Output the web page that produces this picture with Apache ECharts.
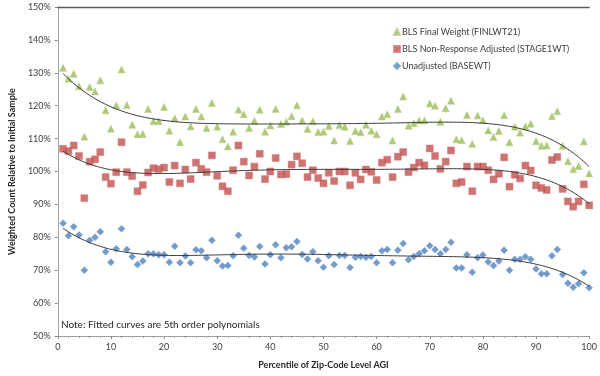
<!DOCTYPE html>
<html><head><meta charset="utf-8">
<script src="https://cdn.jsdelivr.net/npm/echarts@6/dist/echarts.min.js"></script>
<style>html,body{margin:0;padding:0;background:#fff}#c{width:600px;height:376px}</style>
</head><body><div id="c"></div>
<script>
const percentiles = Array.from({length:100},(_,i)=>i+1);
const finalWeight = [131.5,128.2,129.7,125.9,110.6,125.7,124.3,127.7,118.6,113,
120.1,131,120.2,114.2,111.3,111.4,119,115.3,115.3,119.6,
112.4,116.2,108.9,116.7,113.7,119,116.7,113.2,120.8,113.6,
109.8,107.6,112.1,118.8,117.4,113.2,115.4,118.8,112.1,114,
119,114.4,115.1,116.8,120.1,115.5,112.9,115.3,112,112.1,
113.8,109.4,114.1,113.6,109.3,112.3,111.9,114.2,112.4,111.3,
116.7,117.4,109.4,119,122.8,113.9,114.7,115.5,115.5,120.7,
120,115.1,119.2,121.5,109.8,109.5,117.2,108.4,117,115.6,
112.5,110.5,112.3,117.1,108.9,113.6,111.8,113.7,114.5,109.2,
107.8,107.9,116.8,118.3,107.8,103.1,100.7,101.7,109.1,99.4];
const nonResponse = [106.9,106.2,107.9,104.7,91.9,103,103.7,105.9,98.3,96.3,
99.8,108.9,99.8,98.6,94,95.9,99.7,101,100.7,101.2,
96.8,101.8,96.4,100.6,97.7,102.7,100.8,99.8,104.9,98.7,
95.5,94,100.4,107.9,103,98.8,101.5,105.4,97.7,100,
104.1,99.1,99.2,102.1,104.6,102.5,98.3,100.4,98,96.4,
99.6,97.1,100,100,95.8,99.6,97.6,100.6,99.9,97.4,
102.7,103.6,98.3,104.5,105.9,99.8,101.2,102.7,101.9,107,
104.7,100.8,103,106.4,96.4,96.8,101.5,94,101.5,101.5,
100.4,97.6,99.3,104.3,95.4,99,97.9,101.8,100.3,95.8,
95,94.4,103.5,104.4,94.7,90.9,89.3,90.9,96.1,89.7];
const unadjusted = [84.3,80.5,83.2,80.7,70,79.1,80,81.7,75.6,72.4,
76.5,82.6,76.3,74.1,71.7,72.8,75,75,74.7,74.7,
72.4,77.3,72.3,74.3,72.3,76.2,75.9,73.8,79.1,72.9,
71.3,71.4,74.4,80.6,76.7,74.5,74,77.2,71.9,74.7,
77.7,73.8,76.8,77.1,78.7,74.8,73.4,75.6,72.9,70.9,
74.4,71.7,74.5,74.5,70.8,73.9,74.2,73.9,74.2,72.3,
75.9,76.3,72.3,76.1,78.1,73.2,74.2,75,75.9,77.4,
76.3,75,76.3,78.5,70.7,70.7,74.7,69.4,73.8,74.6,
72.5,71.4,72.8,76.1,70,73.3,73.3,74.1,73.3,70.4,
68.9,68.9,74.4,76.3,68.7,66,64.8,65.9,69.2,64.7];
const seriesNames = ['BLS Final Weight (FINLWT21)','BLS Non-Response Adjusted (STAGE1WT)','Unadjusted (BASEWT)'];
const yTicks = [50,60,70,80,90,100,110,120,130,140,150];
const xTicks = [0,10,20,30,40,50,60,70,80,90,100];
const noteText = 'Note: Fitted curves are 5th order polynomials';

// least-squares polynomial fit (5th order, as stated in the chart note)
function polyfit(xs, ys, deg){
  const n=deg+1, A=[], b=[];
  for(let i=0;i<n;i++){A.push(new Array(n).fill(0));b.push(0);}
  xs.forEach((x,k)=>{const t=x/100;const p=[];for(let i=0;i<2*n;i++)p.push(Math.pow(t,i));
    for(let i=0;i<n;i++){b[i]+=ys[k]*p[i];for(let j=0;j<n;j++)A[i][j]+=p[i+j];}});
  for(let c=0;c<n;c++){let m=c;for(let r=c+1;r<n;r++)if(Math.abs(A[r][c])>Math.abs(A[m][c]))m=r;
    [A[c],A[m]]=[A[m],A[c]];[b[c],b[m]]=[b[m],b[c]];
    for(let r=0;r<n;r++){if(r===c)continue;const f=A[r][c]/A[c][c];for(let j=c;j<n;j++)A[r][j]-=f*A[c][j];b[r]-=f*b[c];}}
  const coef=b.map((v,i)=>v/A[i][i]);
  return x=>{const t=x/100;let s=0;for(let i=n-1;i>=0;i--)s=s*t+coef[i];return s;};
}
function fitLine(ys){const f=polyfit(percentiles,ys,5);const out=[];for(let x=1;x<=100;x+=0.5)out.push([x,f(x)]);return out;}
const pts = ys => percentiles.map((x,i)=>[x,ys[i]]);

const font='Lato';
const chart = echarts.init(document.getElementById('c'));
const curveStyle={color:'#3a3a3a',width:1};
chart.setOption({
  animation:false,
  textStyle:{fontFamily:font},
  grid:{left:46,right:9,top:7,bottom:40},
  legend:{data:seriesNames,orient:'vertical',left:388,top:21,itemWidth:6,itemHeight:6,itemGap:5,
    textStyle:{fontFamily:font,fontSize:9,color:'#404040',lineHeight:12,padding:[0,0,0,-3]}},
  xAxis:[{type:'value',min:0,max:100,interval:10,
    name:'Percentile of Zip-Code Level AGI',nameLocation:'middle',nameGap:25,
    nameTextStyle:{fontFamily:font,fontWeight:'bold',fontSize:9,color:'#262626'},
    axisLine:{lineStyle:{color:'#8c8c8c',type:'dotted',width:1}},
    axisTick:{length:3,lineStyle:{color:'#8c8c8c'}},
    minorTick:{show:true,splitNumber:5,length:2,lineStyle:{color:'#a0a0a0'}},
    axisLabel:{fontSize:9,color:'#404040',margin:7,fontFamily:font},
    splitLine:{show:false}},
   {type:'value',position:'top',min:0,max:100,axisLine:{lineStyle:{color:'#5a5a5a',width:1.3}},
    axisTick:{show:false},axisLabel:{show:false},splitLine:{show:false}}],
  yAxis:[{type:'value',min:50,max:150,interval:10,
    name:'Weighted Count Relative to Initial Sample',nameLocation:'middle',nameGap:38,
    nameTextStyle:{fontFamily:font,fontWeight:'bold',fontSize:9,color:'#262626'},
    axisLine:{show:true,lineStyle:{color:'#8c8c8c',type:'dotted',width:1}},
    axisTick:{show:true,length:3,lineStyle:{color:'#8c8c8c'}},
    axisLabel:{fontSize:9,color:'#404040',margin:7,fontFamily:font,formatter:'{value}%'},
    splitLine:{show:false}},
   {type:'value',position:'right',min:50,max:150,axisLine:{show:true,lineStyle:{color:'#a6a6a6',width:1}},
    axisTick:{show:false},axisLabel:{show:false},splitLine:{show:false}}],
  graphic:[{type:'text',left:61,top:320,style:{text:noteText,fontFamily:font,fontSize:10,fill:'#262626'}}],
  series:[
    {name:seriesNames[0],type:'scatter',symbol:'triangle',symbolSize:7,data:pts(finalWeight),
      itemStyle:{color:'#9BBB59',borderColor:'#b5cf7f',borderWidth:0.6}},
    {name:seriesNames[1],type:'scatter',symbol:'rect',symbolSize:7,data:pts(nonResponse),
      itemStyle:{color:'#C0504D',borderColor:'#d47b78',borderWidth:0.6}},
    {name:seriesNames[2],type:'scatter',symbol:'diamond',symbolSize:7,data:pts(unadjusted),
      itemStyle:{color:'#4F81BD',borderColor:'#7aa0d0',borderWidth:0.6}},
    {name:'fit1',type:'line',showSymbol:false,data:fitLine(finalWeight),lineStyle:curveStyle,z:5,silent:true},
    {name:'fit2',type:'line',showSymbol:false,data:fitLine(nonResponse),lineStyle:curveStyle,z:5,silent:true},
    {name:'fit3',type:'line',showSymbol:false,data:fitLine(unadjusted),lineStyle:curveStyle,z:5,silent:true}
  ]
});
</script></body></html>
